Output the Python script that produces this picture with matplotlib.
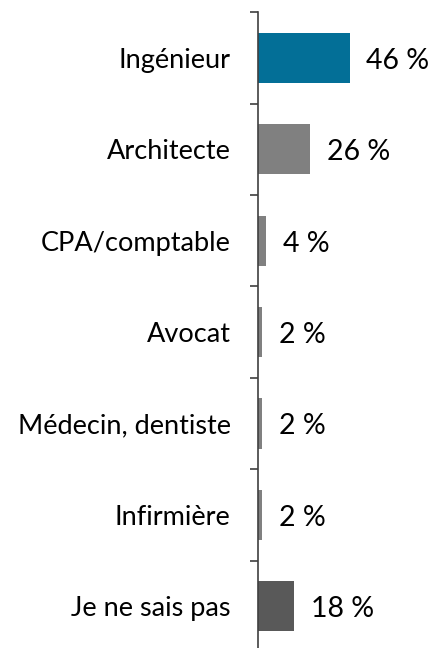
import matplotlib.pyplot as plt
import numpy as np

categories = ["Ingénieur", "Architecte", "CPA/comptable", "Avocat",
              "Médecin, dentiste", "Infirmière", "Je ne sais pas"]
values = [46, 26, 4, 2, 2, 2, 18]
colors = ["#036F97", "#808080", "#808080", "#808080", "#808080", "#808080", "#595959"]

plt.rcParams['font.family'] = ['Lato', 'DejaVu Sans']

fig = plt.figure(figsize=(4.32, 6.48), dpi=100)
ax = fig.add_axes([0.598, -0.006, 0.402, 0.987])

y = np.arange(len(categories))
ax.barh(y, values, height=0.55, color=colors)
ax.set_ylim(len(categories) - 0.5, -0.5)
ax.set_xlim(0, 87.5)

for yi, v in zip(y, values):
    ax.annotate(f"{v} %", (v, yi), xytext=(12, -2), textcoords="offset points",
                va="center", ha="left", fontsize=20.5)

ax.set_yticks(y)
ax.set_yticklabels(categories, fontsize=19.5)
ax.set_yticks(np.arange(-0.5, len(categories), 1), minor=True)
ax.tick_params(axis='y', which='major', length=0, pad=20)
ax.tick_params(axis='y', which='minor', length=6, width=1.2, color="#404040")
ax.set_xticks([])

for s in ["top", "right", "bottom"]:
    ax.spines[s].set_visible(False)
ax.spines["left"].set_color("#404040")
ax.spines["left"].set_linewidth(1.2)

plt.savefig("out.png", dpi=100)
